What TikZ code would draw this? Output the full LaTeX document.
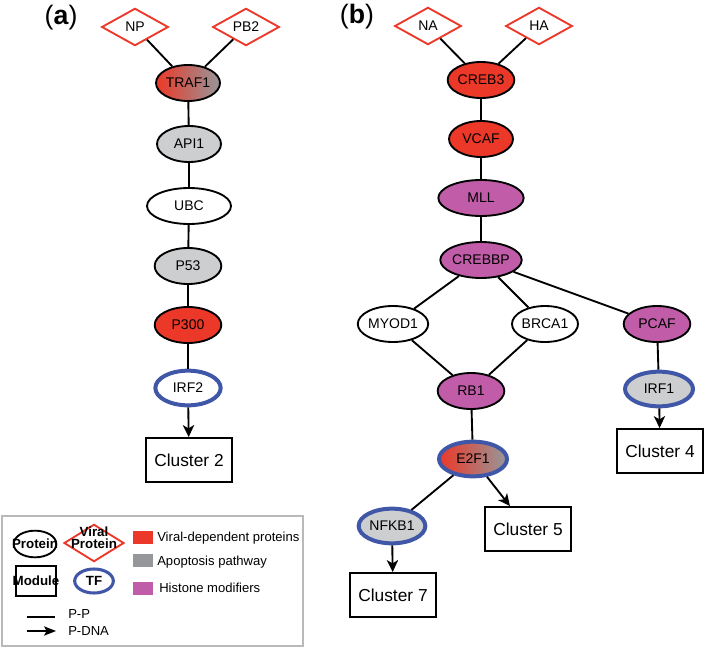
\documentclass[tikz,border=0pt]{standalone}
\usepackage{fontspec}
\setmainfont{Liberation Sans}
\usetikzlibrary{shapes.geometric,arrows.meta}
\definecolor{vred}{RGB}{236,56,40}
\definecolor{apogray}{RGB}{205,206,208}
\definecolor{darkgray}{RGB}{150,151,154}
\definecolor{histone}{RGB}{192,92,168}
\definecolor{tfblue}{RGB}{64,87,168}
\definecolor{framegray}{RGB}{185,185,185}

\begin{document}
\begin{tikzpicture}[x=0.75pt,y=-0.75pt,
        prot/.style={ellipse,draw,line width=1.4pt,inner sep=0pt,minimum width=48pt,minimum height=27pt,font=\fontsize{10.5}{12}\selectfont},
        tf/.style={prot,draw=tfblue,line width=3pt,minimum width=49pt,minimum height=26pt},
        viral/.style={diamond,draw=vred,line width=1.4pt,fill=white,inner sep=0pt,minimum width=50pt,minimum height=28pt,font=\fontsize{10.5}{12}\selectfont},
        module/.style={rectangle,draw,line width=1.4pt,minimum width=65pt,minimum height=33pt,font=\fontsize{13}{15}\selectfont},
        pp/.style={line width=1.4pt},
        pdna/.style={line width=1.4pt,-{Stealth[length=9pt,width=8.5pt,inset=2.5pt]}},
        legtext/.style={anchor=west,inner sep=0pt,font=\fontsize{9.8}{11}\selectfont},
        legbold/.style={font=\bfseries\fontsize{10}{11}\selectfont}]
        \useasboundingbox (0,0) rectangle (706,649);

        \node[font=\fontsize{20}{24}\selectfont] (laba) at (61,18) {(\textbf{a})};
        \node[font=\fontsize{20}{24}\selectfont] (labb) at (357,17) {(\textbf{b})};

        \node[viral] (np) at (135,27) {NP};
        \node[viral] (pb2) at (246,27) {PB2};
        \node[prot,left color=vred,right color=darkgray] (traf1) at (188,83) {TRAF1};
        \node[prot,fill=apogray] (api1) at (189,144) {API1};
        \node[prot,minimum width=63pt] (ubc) at (189,206) {UBC};
        \node[prot,fill=apogray,minimum width=50pt] (p53) at (188,266) {P53};
        \node[prot,fill=vred,minimum width=50pt] (p300) at (188,325) {P300};
        \node[tf] (irf2) at (188,388) {IRF2};
        \node[module] (clus2) at (189,460) {Cluster 2};

        \draw[pp] (np) -- (traf1);
        \draw[pp] (pb2) -- (traf1);
        \draw[pp] (traf1) -- (api1);
        \draw[pp] (api1) -- (ubc);
        \draw[pp] (ubc) -- (p53);
        \draw[pp] (p53) -- (p300);
        \draw[pp] (p300) -- (irf2);
        \draw[pdna] (irf2) -- (clus2);

        \node[viral] (na) at (428,26) {NA};
        \node[viral] (ha) at (539,26) {HA};
        \node[prot,fill=vred,minimum width=50pt] (creb3) at (481,80) {CREB3};
        \node[prot,fill=vred] (vcaf) at (481,139) {VCAF};
        \node[prot,fill=histone,minimum width=64pt] (mll) at (481,198) {MLL};
        \node[prot,fill=histone,minimum width=50pt] (crebbp) at (481,260) {CREBBP};
        \node[prot,minimum width=50pt] (myod1) at (393,324) {MYOD1};
        \node[prot] (brca1) at (545,324) {BRCA1};
        \node[prot,fill=histone,minimum width=50pt] (pcaf) at (657,324) {PCAF};
        \node[prot,fill=histone,minimum width=50pt] (rb1) at (471,391) {RB1};
        \node[tf,fill=apogray,minimum width=51pt] (irf1) at (659,389) {IRF1};
        \node[module] (clus4) at (660,451) {Cluster 4};
        \node[tf,left color=vred,right color=darkgray,minimum width=51pt] (e2f1) at (473,459) {E2F1};
        \node[tf,fill=apogray,minimum width=50pt] (nfkb1) at (392,526) {NFKB1};
        \node[module] (clus5) at (528,529) {Cluster 5};
        \node[module] (clus7) at (393,595) {Cluster 7};

        \draw[pp] (na) -- (creb3);
        \draw[pp] (ha) -- (creb3);
        \draw[pp] (creb3) -- (vcaf);
        \draw[pp] (vcaf) -- (mll);
        \draw[pp] (mll) -- (crebbp);
        \draw[pp] (crebbp) -- (myod1);
        \draw[pp] (crebbp) -- (brca1);
        \draw[pp] (crebbp) -- (pcaf);
        \draw[pp] (myod1) -- (rb1);
        \draw[pp] (brca1) -- (rb1);
        \draw[pp] (pcaf) -- (irf1);
        \draw[pdna] (irf1) -- (clus4);
        \draw[pp] (rb1) -- (e2f1);
        \draw[pp] (e2f1) -- (nfkb1);
        \draw[pdna] (e2f1) -- (clus5);
        \draw[pdna] (nfkb1) -- (clus7);

        \draw[framegray,line width=1pt] (2,516) rectangle (303,646);
        \node[prot,minimum width=32pt,minimum height=20pt,legbold] (legprot) at (35,544) {\makebox[0pt]{Protein}};
        \node[viral,minimum width=45pt,minimum height=28pt,legbold] (legviral) at (94,543) {\makebox[0pt]{\smash{\begin{tabular}{@{}c@{}}Viral\\[-2pt]Protein\end{tabular}}}};
        \node[module,minimum width=30pt,minimum height=23pt,inner sep=0pt,legbold] (legmod) at (36,581) {\makebox[0pt]{Module}};
        \node[tf,minimum width=29pt,minimum height=18pt,line width=2.3pt,legbold] (legtf) at (94,581) {TF};

        \fill[vred] (133,531) rectangle (153,544);
        \fill[darkgray] (133,554) rectangle (153,567);
        \fill[histone] (133,582) rectangle (153,595);
        \node[legtext] (legred) at (157,538) {Viral-dependent proteins};
        \node[legtext] (legapo) at (157,562) {Apoptosis pathway};
        \node[legtext] (leghis) at (159,588) {Histone modifiers};

        \coordinate (ppa) at (27,617);
        \coordinate (ppb) at (55,617);
        \coordinate (dnaa) at (27,631);
        \coordinate (dnab) at (56,631);
        \draw[line width=1pt] (ppa) -- (ppb);
        \draw[line width=1pt,-{Stealth[length=9pt,width=7pt,inset=2pt]}] (dnaa) -- (dnab);
        \node[legtext] (legpp) at (68,614) {P-P};
        \node[legtext] (legdna) at (68,631) {P-DNA};
    \end{tikzpicture}
\end{document}
